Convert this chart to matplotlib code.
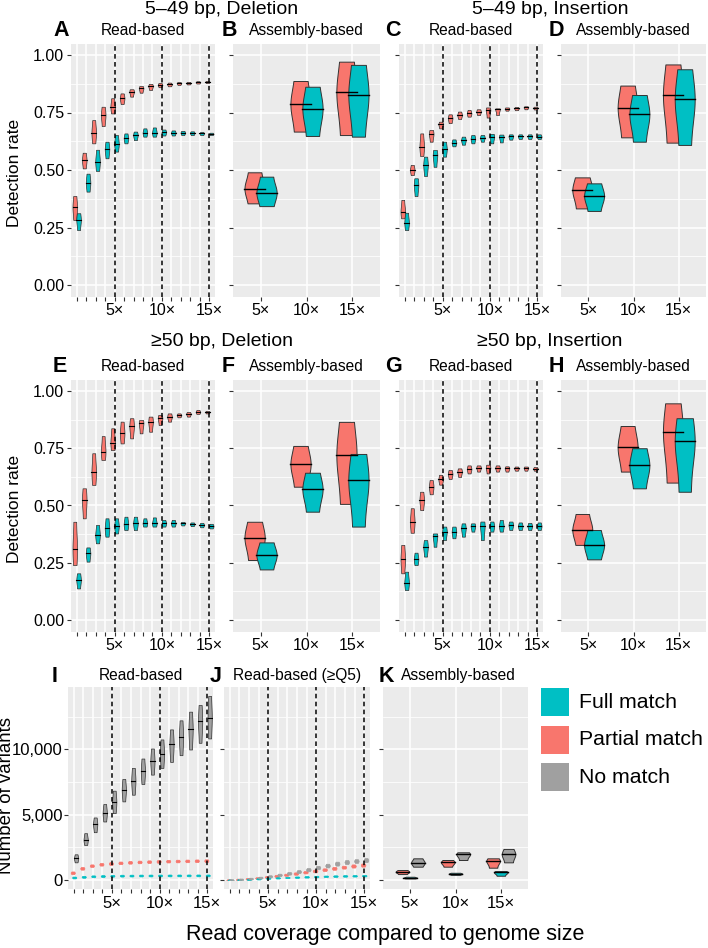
import numpy as np
import matplotlib.pyplot as plt
from matplotlib.patches import Rectangle

plt.rcParams['font.family'] = ['Liberation Sans', 'DejaVu Sans']

W, H = 708, 948
RED, CYAN, GRAY = '#F8766D', '#00BFC4', '#A0A0A0'
EDGE = '#333333'

cov = list(range(1, 16))
cov_labels = ['' if c % 5 else f'{c}×' for c in cov]
asm_labels = ['5×', '10×', '15×']

# ---- 5-49 bp deletion, read-based (A) ----
A_part_lo = [0.283, 0.507, 0.616, 0.691, 0.746, 0.787, 0.819, 0.836, 0.848, 0.860, 0.864, 0.870, 0.872, 0.876, 0.878]
A_part_med = [0.338, 0.543, 0.662, 0.739, 0.775, 0.812, 0.841, 0.855, 0.865, 0.870, 0.872, 0.877, 0.878, 0.881, 0.883]
A_part_hi = [0.387, 0.575, 0.717, 0.775, 0.812, 0.833, 0.851, 0.865, 0.874, 0.878, 0.880, 0.882, 0.883, 0.886, 0.887]
A_full_lo = [0.239, 0.406, 0.496, 0.551, 0.580, 0.616, 0.630, 0.645, 0.645, 0.650, 0.650, 0.652, 0.652, 0.652, 0.652]
A_full_med = [0.283, 0.445, 0.536, 0.590, 0.613, 0.638, 0.652, 0.662, 0.662, 0.664, 0.662, 0.662, 0.661, 0.659, 0.657]
A_full_hi = [0.312, 0.484, 0.588, 0.623, 0.652, 0.659, 0.667, 0.681, 0.685, 0.676, 0.672, 0.670, 0.668, 0.665, 0.662]

# ---- 5-49 bp deletion, assembly-based (B) ----
B_part_lo = [0.355, 0.667, 0.652]
B_part_med = [0.419, 0.786, 0.838]
B_part_hi = [0.490, 0.887, 0.971]
B_full_lo = [0.343, 0.648, 0.645]
B_full_med = [0.401, 0.767, 0.828]
B_full_hi = [0.471, 0.862, 0.957]

# ---- 5-49 bp insertion, read-based (C) ----
C_part_lo = [0.290, 0.478, 0.561, 0.623, 0.681, 0.704, 0.722, 0.732, 0.739, 0.728, 0.739, 0.758, 0.760, 0.764, 0.763]
C_part_med = [0.319, 0.500, 0.601, 0.657, 0.699, 0.725, 0.739, 0.746, 0.754, 0.761, 0.764, 0.767, 0.768, 0.772, 0.770]
C_part_hi = [0.370, 0.522, 0.659, 0.674, 0.710, 0.742, 0.754, 0.761, 0.764, 0.772, 0.768, 0.772, 0.774, 0.777, 0.775]
C_full_lo = [0.239, 0.387, 0.474, 0.514, 0.558, 0.603, 0.610, 0.616, 0.623, 0.616, 0.620, 0.632, 0.635, 0.635, 0.635]
C_full_med = [0.271, 0.435, 0.522, 0.565, 0.591, 0.619, 0.630, 0.636, 0.641, 0.645, 0.645, 0.646, 0.646, 0.646, 0.645]
C_full_hi = [0.314, 0.464, 0.558, 0.587, 0.623, 0.633, 0.645, 0.652, 0.652, 0.657, 0.654, 0.655, 0.655, 0.655, 0.655]

# ---- 5-49 bp insertion, assembly-based (D) ----
D_part_lo = [0.333, 0.642, 0.619]
D_part_med = [0.413, 0.771, 0.826]
D_part_hi = [0.468, 0.867, 0.959]
D_full_lo = [0.322, 0.623, 0.609]
D_full_med = [0.388, 0.742, 0.807]
D_full_hi = [0.442, 0.826, 0.938]

# ---- >=50 bp deletion, read-based (E) ----
E_part_lo = [0.240, 0.444, 0.590, 0.699, 0.742, 0.771, 0.793, 0.815, 0.822, 0.852, 0.866, 0.885, 0.888, 0.900, 0.902]
E_part_med = [0.309, 0.524, 0.645, 0.735, 0.774, 0.815, 0.847, 0.859, 0.866, 0.881, 0.888, 0.894, 0.900, 0.908, 0.908]
E_part_hi = [0.429, 0.575, 0.728, 0.803, 0.837, 0.866, 0.881, 0.873, 0.888, 0.895, 0.902, 0.902, 0.908, 0.917, 0.913]
E_full_lo = [0.138, 0.255, 0.335, 0.364, 0.378, 0.393, 0.393, 0.408, 0.408, 0.408, 0.408, 0.413, 0.410, 0.405, 0.400]
E_full_med = [0.175, 0.291, 0.371, 0.400, 0.410, 0.418, 0.422, 0.422, 0.422, 0.422, 0.422, 0.422, 0.419, 0.415, 0.410]
E_full_hi = [0.204, 0.317, 0.415, 0.444, 0.444, 0.451, 0.451, 0.444, 0.448, 0.437, 0.437, 0.428, 0.426, 0.424, 0.420]

# ---- >=50 bp deletion, assembly-based (F) ----
F_part_lo = [0.262, 0.582, 0.507]
F_part_med = [0.360, 0.681, 0.720]
F_part_hi = [0.429, 0.760, 0.865]
F_full_lo = [0.221, 0.473, 0.408]
F_full_med = [0.284, 0.571, 0.611]
F_full_hi = [0.339, 0.643, 0.725]

# ---- >=50 bp insertion, read-based (G) ----
G_part_lo = [0.204, 0.381, 0.480, 0.549, 0.591, 0.616, 0.625, 0.640, 0.648, 0.640, 0.648, 0.648, 0.652, 0.652, 0.652]
G_part_med = [0.265, 0.429, 0.524, 0.582, 0.614, 0.638, 0.648, 0.659, 0.665, 0.665, 0.664, 0.662, 0.662, 0.664, 0.661]
G_part_hi = [0.328, 0.488, 0.560, 0.611, 0.634, 0.655, 0.662, 0.675, 0.675, 0.678, 0.675, 0.671, 0.670, 0.670, 0.668]
G_full_lo = [0.131, 0.240, 0.277, 0.320, 0.349, 0.357, 0.364, 0.386, 0.349, 0.386, 0.386, 0.393, 0.393, 0.393, 0.393]
G_full_med = [0.163, 0.265, 0.320, 0.367, 0.386, 0.386, 0.400, 0.410, 0.410, 0.410, 0.410, 0.415, 0.410, 0.410, 0.410]
G_full_hi = [0.211, 0.294, 0.349, 0.378, 0.408, 0.408, 0.422, 0.422, 0.430, 0.430, 0.437, 0.430, 0.426, 0.424, 0.426]

# ---- >=50 bp insertion, assembly-based (H) ----
H_part_lo = [0.328, 0.648, 0.600]
H_part_med = [0.393, 0.754, 0.822]
H_part_hi = [0.463, 0.847, 0.946]
H_full_lo = [0.265, 0.575, 0.560]
H_full_med = [0.328, 0.675, 0.782]
H_full_hi = [0.393, 0.750, 0.881]

# ---- number of variants, read-based (I) ----
I_none_lo = [1359, 2692, 3667, 4487, 5128, 6026, 6538, 7359, 8077, 8590, 9051, 9564, 10000, 10513, 10846]
I_none_med = [1667, 3077, 4282, 5128, 5974, 6923, 7615, 8333, 9103, 9667, 10385, 10949, 11538, 12179, 12436]
I_none_hi = [1974, 3590, 4795, 5820, 6846, 7744, 8590, 9308, 10077, 10769, 11538, 12231, 12897, 13410, 14103]
I_part_lo = [460, 800, 1010, 1110, 1170, 1220, 1260, 1290, 1310, 1330, 1350, 1360, 1370, 1380, 1390]
I_part_med = [560, 900, 1100, 1210, 1270, 1320, 1360, 1390, 1410, 1430, 1450, 1460, 1470, 1480, 1490]
I_part_hi = [660, 1000, 1200, 1310, 1370, 1420, 1460, 1490, 1510, 1530, 1550, 1560, 1570, 1580, 1590]
I_full_lo = [130, 180, 220, 240, 260, 270, 275, 280, 282, 285, 287, 288, 290, 290, 290]
I_full_med = [200, 250, 290, 310, 330, 340, 345, 350, 352, 355, 357, 358, 360, 360, 360]
I_full_hi = [270, 320, 360, 380, 400, 410, 415, 420, 422, 425, 427, 428, 430, 430, 430]

# ---- number of variants, read-based >=Q5 (J) ----
J_none_lo = [0, 10, 50, 120, 210, 310, 420, 540, 680, 830, 970, 1110, 1230, 1320, 1380]
J_none_med = [10, 50, 110, 190, 290, 400, 520, 650, 800, 960, 1110, 1260, 1380, 1460, 1530]
J_none_hi = [80, 120, 180, 260, 370, 490, 620, 760, 920, 1090, 1250, 1410, 1530, 1600, 1680]
J_part_lo = [0, 0, 40, 100, 170, 240, 330, 410, 510, 600, 700, 790, 880, 960, 1030]
J_part_med = [10, 45, 100, 160, 240, 320, 410, 500, 600, 700, 800, 900, 990, 1080, 1150]
J_part_hi = [70, 110, 160, 220, 310, 400, 490, 590, 690, 800, 900, 1010, 1100, 1200, 1270]
J_full_lo = [0, 0, 10, 50, 90, 120, 150, 170, 190, 210, 230, 245, 260, 270, 280]
J_full_med = [5, 30, 60, 100, 140, 170, 200, 225, 250, 270, 290, 305, 320, 330, 340]
J_full_hi = [55, 80, 110, 150, 190, 220, 250, 280, 310, 330, 350, 365, 380, 390, 400]

# ---- number of variants, assembly-based (K) ----
K_part_lo = [462, 1026, 949]
K_part_med = [641, 1359, 1462]
K_part_hi = [769, 1538, 1667]
K_full_lo = [128, 400, 333]
K_full_med = [180, 487, 590]
K_full_hi = [256, 560, 692]
K_none_lo = [1026, 1538, 1359]
K_none_med = [1333, 1974, 1974]
K_none_hi = [1667, 2128, 2385]

legend_labels = ['Full match', 'Partial match', 'No match']

fig = plt.figure(figsize=(W / 100, H / 100), dpi=100)


def px(x, y):
    return x / W, 1 - y / H


def panel(x0, x1, y0, y1):
    ax = fig.add_axes([x0 / W, 1 - y1 / H, (x1 - x0) / W, (y1 - y0) / H])
    ax.set_facecolor('#EBEBEB')
    for s in ax.spines.values():
        s.set_visible(False)
    ax.set_axisbelow(True)
    ax.grid(which='major', color='white', lw=1.1)
    ax.grid(which='minor', axis='y', color='white', lw=0.55)
    ax.tick_params(which='major', length=3, width=0.8, color=EDGE,
                   labelsize=11.5, pad=2, labelcolor='black')
    ax.tick_params(which='minor', length=0)
    return ax


def violin(ax, x, lo, med, hi, color, hw, outlined=True, elw=0.7):
    ys = np.linspace(lo, hi, 40)
    spread = max(hi - lo, 1e-9)
    w = hw * (0.6 + 0.4 * np.exp(-((ys - med) / (0.4 * spread)) ** 2))
    if outlined:
        ax.fill_betweenx(ys, x - w, x + w, facecolor=color, edgecolor=EDGE, lw=elw, zorder=2)
        wm = np.interp(med, ys, w)
        ax.plot([x - wm, x + wm], [med, med], color='black', lw=elw + 0.3, zorder=2.5)
    else:
        ax.fill_betweenx(ys, x - w, x + w, facecolor=color, edgecolor=color, lw=0.5, zorder=2)


def rate_axis(ax, show_labels):
    ax.set_ylim(-0.05, 1.05)
    ax.set_yticks([0, 0.25, 0.5, 0.75, 1.0])
    ax.set_yticks([0.125, 0.375, 0.625, 0.875], minor=True)
    if show_labels:
        ax.set_yticklabels(['0.00', '0.25', '0.50', '0.75', '1.00'])
    else:
        ax.set_yticklabels([])


def read_panel(ax, groups, hw):
    for lo, med, hi, color, off, outlined in groups:
        for i, c in enumerate(cov):
            violin(ax, c + off, lo[i], med[i], hi[i], color, hw, outlined, elw=0.5)
    for v in (5, 10, 15):
        ax.axvline(v, color='black', ls=(0, (3, 2.2)), lw=1.1, zorder=3)
    ax.set_xlim(0.4, 15.6)
    ax.set_xticks(cov)
    ax.set_xticklabels(cov_labels)


def asm_panel(ax, groups, hw):
    for lo, med, hi, color, off in groups:
        for i in range(3):
            violin(ax, i + 1 + off, lo[i], med[i], hi[i], color, hw)
    ax.set_xlim(0.4, 3.6)
    ax.set_xticks([1, 2, 3])
    ax.set_xticklabels(asm_labels)


cols = [(71, 215), (233, 380), (399, 543), (561, 706)]
rows = [(43.5, 296.5), (379.5, 631.5)]

read_sets = [
    [(A_part_lo, A_part_med, A_part_hi, RED, -0.2, True), (A_full_lo, A_full_med, A_full_hi, CYAN, 0.2, True)],
    [(C_part_lo, C_part_med, C_part_hi, RED, -0.2, True), (C_full_lo, C_full_med, C_full_hi, CYAN, 0.2, True)],
    [(E_part_lo, E_part_med, E_part_hi, RED, -0.2, True), (E_full_lo, E_full_med, E_full_hi, CYAN, 0.2, True)],
    [(G_part_lo, G_part_med, G_part_hi, RED, -0.2, True), (G_full_lo, G_full_med, G_full_hi, CYAN, 0.2, True)],
]
asm_sets = [
    [(B_part_lo, B_part_med, B_part_hi, RED, -0.13), (B_full_lo, B_full_med, B_full_hi, CYAN, 0.13)],
    [(D_part_lo, D_part_med, D_part_hi, RED, -0.13), (D_full_lo, D_full_med, D_full_hi, CYAN, 0.13)],
    [(F_part_lo, F_part_med, F_part_hi, RED, -0.13), (F_full_lo, F_full_med, F_full_hi, CYAN, 0.13)],
    [(H_part_lo, H_part_med, H_part_hi, RED, -0.13), (H_full_lo, H_full_med, H_full_hi, CYAN, 0.13)],
]

letters = [['A', 'B', 'C', 'D'], ['E', 'F', 'G', 'H']]
letter_x = [53, 222, 385, 549]
titles = [['5–49 bp, Deletion', '5–49 bp, Insertion'], ['≥50 bp, Deletion', '≥50 bp, Insertion']]
title_base = [14, 346]
strip_base = [35, 371]

for r, (y0, y1) in enumerate(rows):
    for c, (x0, x1) in enumerate(cols):
        ax = panel(x0, x1, y0, y1)
        if c % 2 == 0:
            read_panel(ax, read_sets[r * 2 + c // 2], 0.24)
            strip = 'Read-based'
        else:
            asm_panel(ax, asm_sets[r * 2 + c // 2], 0.22)
            strip = 'Assembly-based'
        rate_axis(ax, c == 0)
        fig.text(*px((x0 + x1) / 2, strip_base[r]), strip, ha='center', va='baseline', fontsize=11.2)
        fig.text(*px(letter_x[c], strip_base[r] + 1.5), letters[r][c], ha='left', va='baseline',
                 fontsize=15.5, fontweight='bold')
    fig.text(*px(222, title_base[r]), titles[r][0], ha='center', va='baseline', fontsize=14)
    fig.text(*px(550, title_base[r]), titles[r][1], ha='center', va='baseline', fontsize=14)
    fig.text(*px(15, (y0 + y1) / 2 + 3), 'Detection rate', rotation=90, ha='center', va='center',
             fontsize=12.5)

# ---- bottom row ----
ymax = max(I_none_hi + K_none_hi)
ylim3 = (-0.05 * ymax, 1.05 * ymax)
y3 = (686.7, 889.3)


def count_axis(ax, show_labels):
    ax.set_ylim(*ylim3)
    ax.set_yticks([0, 5000, 10000])
    ax.set_yticks([2500, 7500, 12500], minor=True)
    ax.set_yticklabels(['0', '5,000', '10,000'] if show_labels else [])
    ax.tick_params(labelsize=12)


axI = panel(68, 213, *y3)
read_panel(axI, [(I_part_lo, I_part_med, I_part_hi, RED, -0.1, False),
                 (I_full_lo, I_full_med, I_full_hi, CYAN, 0.05, False),
                 (I_none_lo, I_none_med, I_none_hi, GRAY, 0.25, True)], 0.22)
count_axis(axI, True)
axI.tick_params(axis='y', pad=1)

axJ = panel(224, 370, *y3)
read_panel(axJ, [(J_part_lo, J_part_med, J_part_hi, RED, -0.12, False),
                 (J_full_lo, J_full_med, J_full_hi, CYAN, 0.0, False),
                 (J_none_lo, J_none_med, J_none_hi, GRAY, 0.18, False)], 0.24)
count_axis(axJ, False)

axK = panel(383, 528, *y3)
asm_panel(axK, [(K_part_lo, K_part_med, K_part_hi, RED, -0.17),
                (K_full_lo, K_full_med, K_full_hi, CYAN, 0.0),
                (K_none_lo, K_none_med, K_none_hi, GRAY, 0.17)], 0.15)
count_axis(axK, False)

fig.text(*px(140.5, 680), 'Read-based', ha='center', va='baseline', fontsize=11.2)
fig.text(*px(297, 680), 'Read-based (≥Q5)', ha='center', va='baseline', fontsize=11.2)
fig.text(*px(458, 680), 'Assembly-based', ha='center', va='baseline', fontsize=11.2)
fig.text(*px(52, 681.5), 'I', ha='left', va='baseline', fontsize=15.5, fontweight='bold')
fig.text(*px(210, 681.5), 'J', ha='left', va='baseline', fontsize=15.5, fontweight='bold')
fig.text(*px(379, 681.5), 'K', ha='left', va='baseline', fontsize=15.5, fontweight='bold')

fig.text(*px(7, 795), 'Number of variants', rotation=90, ha='center', va='center', fontsize=13.4)
fig.text(*px(385, 940), 'Read coverage compared to genome size', ha='center', va='baseline',
         fontsize=15.5)

# ---- legend ----
for i, (lab, col) in enumerate(zip(legend_labels, [CYAN, RED, GRAY])):
    top = 688 + i * 37.7
    fig.add_artist(Rectangle(px(541, top + 28), 28 / W, 28 / H, transform=fig.transFigure,
                             facecolor=col, edgecolor='none'))
    fig.text(*px(579, top + 14), lab, ha='left', va='center', fontsize=15.3)

fig.savefig('out.png', dpi=100)
